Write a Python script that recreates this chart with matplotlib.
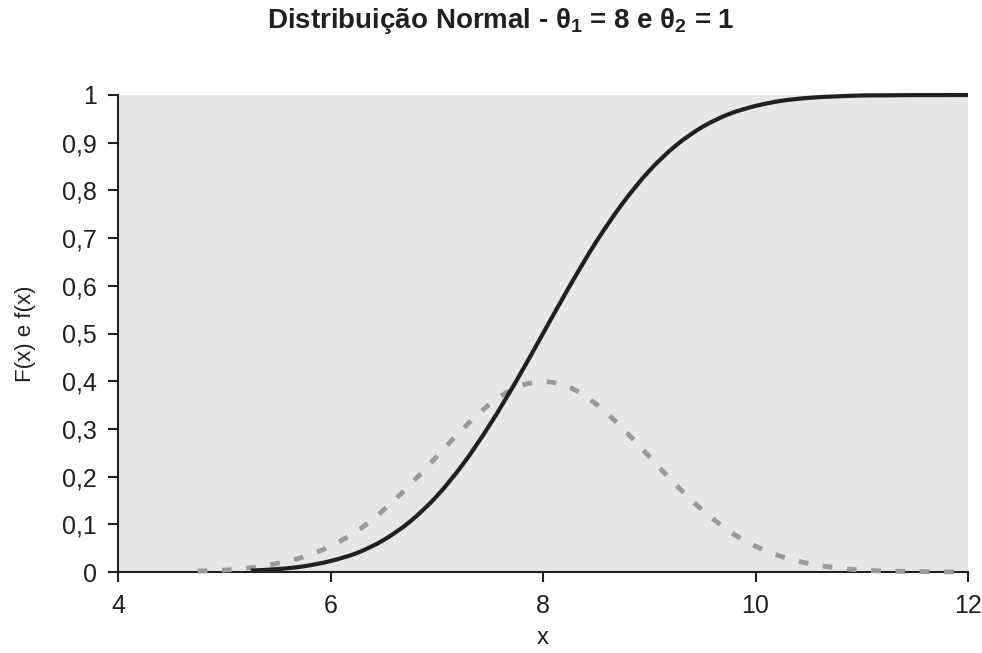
import numpy as np
import matplotlib.pyplot as plt
from matplotlib.path import Path
from matplotlib.patches import PathPatch

# valores (normal com media 8 e desvio 1)
x_pdf = [4.75, 5.0, 5.25, 5.5, 5.75, 6.0, 6.25, 6.5, 6.75, 7.0, 7.25, 7.5, 7.75,
         8.0, 8.25, 8.5, 8.75, 9.0, 9.25, 9.5, 9.75, 10.0, 10.25, 10.5, 10.75,
         11.0, 11.25, 11.5, 11.75, 12.0]
f_pdf = [0.002, 0.004, 0.009, 0.018, 0.032, 0.054, 0.086, 0.130, 0.183, 0.242,
         0.301, 0.352, 0.387, 0.399, 0.387, 0.352, 0.301, 0.242, 0.183, 0.130,
         0.086, 0.054, 0.032, 0.018, 0.009, 0.004, 0.002, 0.001, 0.0004, 0.0001]

x_cdf = [5.25, 5.5, 5.75, 6.0, 6.25, 6.5, 6.75, 7.0, 7.25, 7.5, 7.75, 8.0,
         8.25, 8.5, 8.75, 9.0, 9.25, 9.5, 9.75, 10.0, 10.25, 10.5, 10.75,
         11.0, 11.25, 11.5, 11.75, 12.0]
F_cdf = [0.003, 0.006, 0.012, 0.023, 0.040, 0.067, 0.106, 0.159, 0.227, 0.309,
         0.401, 0.500, 0.599, 0.692, 0.773, 0.841, 0.894, 0.933, 0.960, 0.977,
         0.988, 0.994, 0.997, 0.999, 0.9994, 0.9998, 0.9999, 1.0]

x_ticks = [4, 6, 8, 10, 12]
y_ticks = [0, 0.1, 0.2, 0.3, 0.4, 0.5, 0.6, 0.7, 0.8, 0.9, 1]
y_labels = ["0", "0,1", "0,2", "0,3", "0,4", "0,5", "0,6", "0,7", "0,8", "0,9", "1"]

plt.rcParams['font.family'] = ['Liberation Sans', 'DejaVu Sans']
plt.rcParams['mathtext.fontset'] = 'custom'
plt.rcParams['mathtext.rm'] = 'Liberation Sans:bold'
plt.rcParams['mathtext.it'] = 'Liberation Sans:bold'
plt.rcParams['mathtext.bf'] = 'Liberation Sans:bold'

dark = "#231f20"
grey = "#9a9a9a"


def smooth_path(xs, ys):
    # linha suavizada tipo Excel (catmull-rom -> bezier)
    p = np.column_stack([xs, ys]).astype(float)
    ext = np.vstack([p[0], p, p[-1]])
    verts = [p[0]]
    codes = [Path.MOVETO]
    for i in range(len(p) - 1):
        a, b, c, d = ext[i], ext[i + 1], ext[i + 2], ext[i + 3]
        verts += [b + (c - a) / 6, c - (d - b) / 6, c]
        codes += [Path.CURVE4] * 3
    return Path(verts, codes)


fig = plt.figure(figsize=(9.82, 6.53), dpi=100)
ax = fig.add_axes([118 / 982, 1 - 572 / 653, 850 / 982, 477 / 653])
ax.set_facecolor("#e6e7e8")

pdf_line = PathPatch(smooth_path(x_pdf, f_pdf), fill=False, edgecolor=grey, lw=3.5,
                     linestyle=(0, (2, 3)), capstyle='butt', clip_on=False, zorder=3)
cdf_line = PathPatch(smooth_path(x_cdf, F_cdf), fill=False, edgecolor=dark, lw=3,
                     clip_on=False, zorder=4)
ax.add_patch(pdf_line)
ax.add_patch(cdf_line)

ax.set_xlim(4, 12)
ax.set_ylim(0, 1)
ax.set_xticks(x_ticks)
ax.set_yticks(y_ticks)
ax.set_yticklabels(y_labels)

for s in ["top", "right"]:
    ax.spines[s].set_visible(False)
for s in ["left", "bottom"]:
    ax.spines[s].set_color(dark)
    ax.spines[s].set_linewidth(1.5)
ax.tick_params(axis="both", direction="out", length=7, width=1.5, color=dark,
               labelsize=18, labelcolor=dark)
ax.tick_params(axis="y", pad=8)
ax.tick_params(axis="x", pad=9)

ax.set_xlabel("x", fontsize=17, color=dark, labelpad=6)
ax.set_ylabel("F(x) e f(x)", fontsize=16, color=dark, labelpad=19)

fig.text(501 / 982, 1 - 21 / 653, r"Distribuição Normal - $\theta_1$ = 8 e $\theta_2$ = 1",
         ha="center", va="center", fontsize=20, fontweight="bold", color=dark)

fig.savefig("out.png", dpi=100)
